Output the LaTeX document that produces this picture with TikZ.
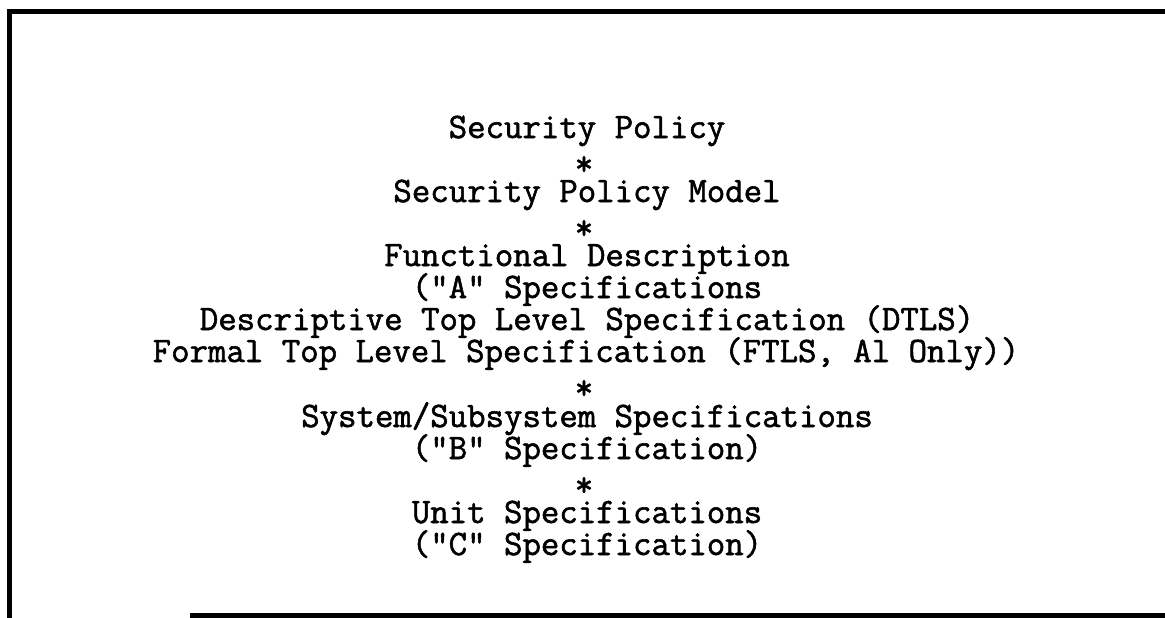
\documentclass[tikz,border=0pt]{standalone}
\usepackage{fontspec}
\setmonofont{Latin Modern Mono}[AutoFakeBold=1.6]
\usepackage{tikz}

\tikzset{
  specline/.style={anchor=base,inner sep=0pt,font=\ttfamily\bfseries\fontsize{35.8}{32}\selectfont},
  starline/.style={specline}
}

\begin{document}
\begin{tikzpicture}[x=1pt,y=-1pt,line width=4.5pt]
\useasboundingbox (0,0) rectangle (1165,618);

% frame
\draw (1165,11.5) -- (9.5,11.5) -- (9.5,618);
\draw (190,615.5) -- (1165,615.5);

\node[specline] (sp)    at (587,138) {Security Policy};
\node[starline] (st1)   at (584,170) {\raisebox{-5pt}{*}};
\node[specline] (spm)   at (587,202) {Security Policy Model};
\node[starline] (st2)   at (584,234) {\raisebox{-5pt}{*}};
\node[specline] (fd)    at (587,266) {Functional Description};
\node[specline] (aspec) at (587,298) {("A" Specifications};
\node[specline] (dtls)  at (587,330) {Descriptive Top Level Specification (DTLS)};
\node[specline] (ftls)  at (586,362) {Formal Top Level Specification (FTLS, Al Only))};
\node[starline] (st3)   at (584,394) {\raisebox{-5pt}{*}};
\node[specline] (sss)   at (587,427) {System/Subsystem Specifications};
\node[specline] (bspec) at (587,459) {("B" Specification)};
\node[starline] (st4)   at (584,491) {\raisebox{-5pt}{*}};
\node[specline] (unit)  at (587,523) {Unit Specifications};
\node[specline] (cspec) at (587,555) {("C" Specification)};

\end{tikzpicture}
\end{document}
